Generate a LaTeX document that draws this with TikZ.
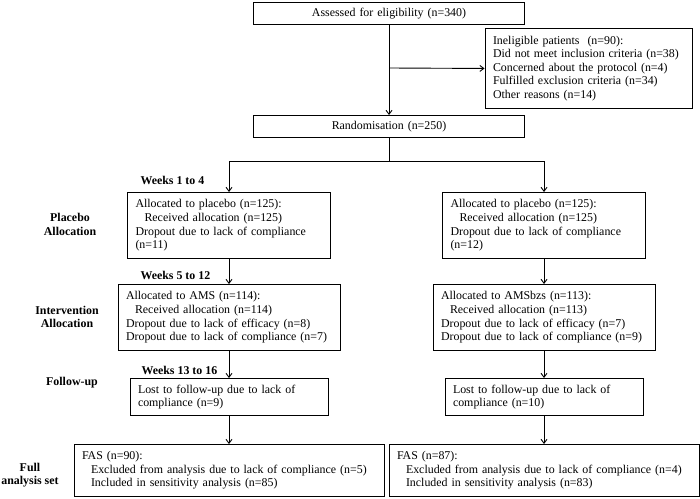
\documentclass[tikz,border=0pt]{standalone}
\usepackage{fontspec}
\setmainfont{Liberation Serif}
\usetikzlibrary{arrows.meta}
\newcommand{\fs}{\fontsize{11.9}{13.6}\selectfont}
\newcommand{\ind}{\hspace*{9pt}}
\tikzset{
	box/.style={draw, line width=0.9pt, align=left, anchor=north, inner xsep=8pt, inner ysep=0pt, font=\fs},
	cbox/.style={box, align=center},
	arr/.style={line width=0.9pt, -{Straight Barb[length=4pt,width=6pt]}},
	ln/.style={line width=0.9pt},
	side/.style={align=center, font=\fs\bfseries},
	weeks/.style={anchor=west, font=\fs\bfseries}
}
\begin{document}
\begin{tikzpicture}[x=1pt,y=-1pt]
	\useasboundingbox (0,0) rectangle (700,498);

		\node[cbox, text width=255pt, minimum height=22pt] (assess) at (389,2) {Assessed for eligibility (n=340)};
		\node[box, text width=191pt, minimum height=80pt] (inelig) at (588.5,28) {Ineligible patients~ (n=90):\\Did not meet inclusion criteria (n=38)\\Concerned about the protocol (n=4)\\Fulfilled exclusion criteria (n=34)\\Other reasons (n=14)};
		\node[cbox, text width=255pt, minimum height=22pt] (rand) at (389,115) {Randomisation (n=250)};
		\coordinate (brk) at (389,68);
		\coordinate (split) at (389,161);

		\node[box, text width=187pt, minimum height=66pt] (plaL) at (229,192) {Allocated to placebo (n=125):\\\ind Received allocation (n=125)\\Dropout due to lack of compliance\\(n=11)};
		\node[box, text width=187pt, minimum height=66pt] (plaR) at (544,192) {Allocated to placebo (n=125):\\\ind Received allocation (n=125)\\Dropout due to lack of compliance\\(n=12)};

		\node[box, text width=206pt, minimum height=66pt] (amsL) at (229,284) {Allocated to AMS (n=114):\\\ind Received allocation (n=114)\\Dropout due to lack of efficacy (n=8)\\Dropout due to lack of compliance (n=7)};
		\node[box, text width=206pt, minimum height=66pt] (amsR) at (544,284) {Allocated to AMSbzs (n=113):\\\ind Received allocation (n=113)\\Dropout due to lack of efficacy (n=7)\\Dropout due to lack of compliance (n=9)};

		\node[box, text width=182pt, minimum height=37pt] (fupL) at (229,378) {Lost to follow-up due to lack of\\compliance (n=9)};
		\node[box, text width=182pt, minimum height=37pt] (fupR) at (544,378) {Lost to follow-up due to lack of\\compliance (n=10)};

		\node[box, text width=294pt, minimum height=52pt] (fasL) at (229,444) {FAS (n=90):\\\ind Excluded from analysis due to lack of compliance (n=5)\\\ind Included in sensitivity analysis (n=85)};
		\node[box, text width=294pt, minimum height=52pt] (fasR) at (544,444) {FAS (n=87):\\\ind Excluded from analysis due to lack of compliance (n=4)\\\ind Included in sensitivity analysis (n=83)};

		\node[weeks] (wk1) at (137,180) {Weeks 1 to 4};
		\node[weeks] (wk2) at (137,275) {Weeks 5 to 12};
		\node[weeks] (wk3) at (138,370) {Weeks 13 to 16};

		\node[side] (sPla) at (70,224.5) {Placebo\\Allocation};
		\node[side] (sInt) at (67,317) {Intervention\\Allocation};
		\node[side] (sFup) at (72,383) {Follow-up};
		\node[side] (sFas) at (30,475) {Full\\analysis set};

		\draw[arr] (assess) to (rand);
		\draw[arr] (brk) to (inelig.west);
		\draw[ln] (rand) to (split);
		\draw[arr] (split) -| (plaL); \draw[arr] (split) -| (plaR);
		\draw[arr] (plaL) to (amsL); \draw[arr] (plaR) to (amsR);
		\draw[arr] (amsL) to (fupL); \draw[arr] (amsR) to (fupR);
		\draw[arr] (fupL) to (fasL); \draw[arr] (fupR) to (fasR);

	\end{tikzpicture}
\end{document}
